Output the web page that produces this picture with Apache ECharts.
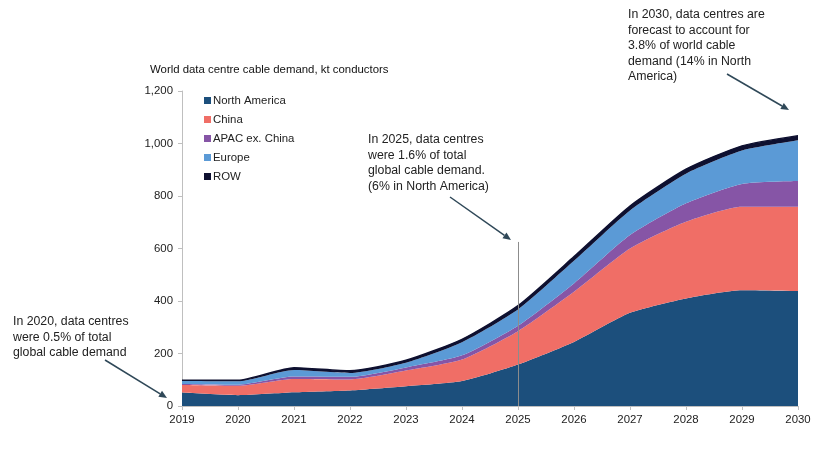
<!DOCTYPE html>
<html>
<head>
<meta charset="utf-8">
<script src="https://cdn.jsdelivr.net/npm/echarts@6/dist/echarts.min.js"></script>
<style>
html,body{margin:0;padding:0;background:#fff;}
#c{width:831px;height:452px;}
</style>
</head>
<body>
<div id="c"></div>
<script>
const years = ['2019','2020','2021','2022','2023','2024','2025','2026','2027','2028','2029','2030'];
const northAmerica = [51, 41, 52, 59, 75, 95, 158, 244, 355, 410, 441, 438];
const china        = [29, 36, 51, 42, 60, 82, 127, 191, 245, 292, 318, 321];
const apacExChina  = [4, 4, 9, 10, 12, 16, 21, 32, 51, 70, 87, 98];
const europe       = [11, 13, 25, 15, 18, 50, 62, 86, 94, 113, 127, 155];
const row          = [3, 4, 9, 8, 9, 11, 14, 16, 17, 17, 18, 18];
const yTicks = [0, 200, 400, 600, 800, 1000, 1200];

const seriesNames = ['North America', 'China', 'APAC ex. China', 'Europe', 'ROW'];
const seriesData = [northAmerica, china, apacExChina, europe, row];
const colors = ['#1c4f7c', '#f06e66', '#8655a6', '#5b9ad6', '#0e1030'];

const FONT = '"Liberation Sans", Arial, sans-serif';
const chart = echarts.init(document.getElementById('c'), null, {renderer: 'canvas'});

const series = seriesData.map((d, i) => ({
  name: seriesNames[i],
  type: 'line',
  stack: 'total',
  data: d,
  smooth: 0.2,
  symbol: 'none',
  lineStyle: {width: i === 4 ? 1.5 : 0, color: colors[i]},
  areaStyle: {color: colors[i], opacity: 1},
  itemStyle: {color: colors[i]},
  z: 2
}));

// vertical reference line at 2025
series[0].markLine = {
  silent: true,
  symbol: ['none', 'none'],
  label: {show: false},
  lineStyle: {color: '#8c8c8c', width: 1, type: 'solid'},
  data: [[{coord: ['2025', 0]}, {coord: ['2025', 625]}]],
  z: 10
};

function arrow(x1, y1, x2, y2) {
  const ang = Math.atan2(y2 - y1, x2 - x1);
  const L = 8, W = 3.5;
  const bx = x2 - L * Math.cos(ang), by = y2 - L * Math.sin(ang);
  const px = -Math.sin(ang) * W, py = Math.cos(ang) * W;
  return [
    {type: 'line', shape: {x1: x1, y1: y1, x2: bx, y2: by}, style: {stroke: '#2f4858', lineWidth: 1.5}, z: 20},
    {type: 'polygon', shape: {points: [[x2, y2], [bx + px, by + py], [bx - px, by - py]]}, style: {fill: '#2f4858'}, z: 20}
  ];
}

const textStyle = {fontFamily: FONT, fontSize: 12.3, fill: '#222', lineHeight: 15.5};

chart.setOption({
  animation: false,
  backgroundColor: '#fff',
  title: {
    text: 'World data centre cable demand, kt conductors',
    left: 145, top: 59,
    textStyle: {fontFamily: FONT, fontSize: 11.4, fontWeight: 'normal', color: '#111'}
  },
  legend: {
    orient: 'vertical',
    left: 199, top: 90,
    itemWidth: 7, itemHeight: 7, itemGap: 8,
    icon: 'rect',
    data: seriesNames,
    textStyle: {fontFamily: FONT, fontSize: 11.4, color: '#222', padding: [0, 0, 0, -3]}
  },
  grid: {left: 182, right: 33, top: 91, bottom: 46, containLabel: false},
  xAxis: {
    type: 'category',
    data: years,
    boundaryGap: false,
    axisLine: {lineStyle: {color: '#bfbfbf'}},
    axisTick: {show: true, length: 4, lineStyle: {color: '#bfbfbf'}},
    axisLabel: {fontFamily: FONT, fontSize: 11.4, color: '#222', margin: 8},
    splitLine: {show: false},
    z: 5
  },
  yAxis: {
    type: 'value',
    min: yTicks[0], max: yTicks[yTicks.length - 1], interval: 200,
    axisLine: {show: true, lineStyle: {color: '#bfbfbf'}},
    axisTick: {show: true, length: 4, lineStyle: {color: '#bfbfbf'}},
    axisLabel: {fontFamily: FONT, fontSize: 11.4, color: '#222', margin: 9,
      formatter: v => v.toLocaleString('en-US')},
    splitLine: {show: false}
  },
  series: series,
  graphic: [
    {type: 'text', left: 368, top: 132, style: Object.assign({text: 'In 2025, data centres\nwere 1.6% of total\nglobal cable demand.\n(6% in North America)'}, textStyle), z: 20},
    {type: 'text', left: 13, top: 314, style: Object.assign({text: 'In 2020, data centres\nwere 0.5% of total\nglobal cable demand'}, textStyle), z: 20},
    {type: 'text', left: 628, top: 7, style: Object.assign({text: 'In 2030, data centres are\nforecast to account for\n3.8% of world cable\ndemand (14% in North\nAmerica)'}, textStyle), z: 20},
    ...arrow(450, 197, 511, 240),
    ...arrow(105, 360, 167, 398),
    ...arrow(727, 74, 789, 110)
  ]
});
</script>
</body>
</html>
